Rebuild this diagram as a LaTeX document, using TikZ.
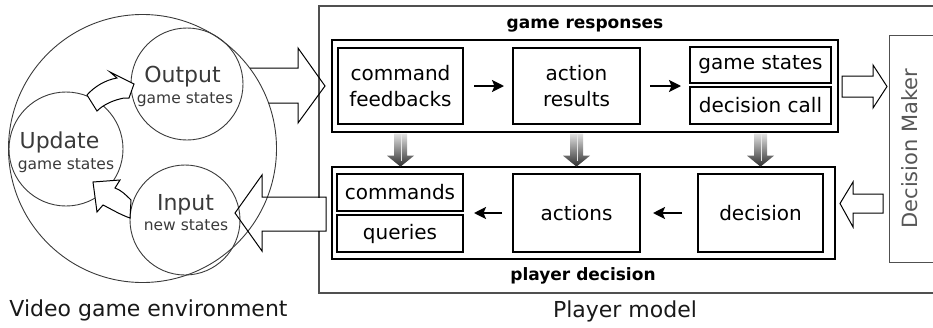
\documentclass[tikz,border=0pt]{standalone}
\usepackage{fontspec}
\setmainfont{DejaVu Sans}
\usetikzlibrary{arrows.meta,calc}
\definecolor{ink}{HTML}{3A3A3A}
\definecolor{framegray}{HTML}{505050}
\newcommand\sizeof[2]{\fontsize{#1}{#2}\selectfont}
\begin{document}
\begin{tikzpicture}[x=1pt,y=-1pt,
  ring/.style={draw=ink, line width=0.9pt, circle, inner sep=0pt},
  bigtxt/.style={text=ink, font=\sizeof{22}{26}, inner sep=0pt, anchor=base},
  smalltxt/.style={text=ink, font=\sizeof{15.5}{18}, inner sep=0pt, anchor=base},
  blockarrow/.style={draw=black, line width=1pt, line join=miter},
  container/.style={draw=black, line width=1.3pt, inner sep=0pt},
  item/.style={draw=black, line width=2pt, inner sep=0pt, align=center,
               font=\sizeof{20}{26}},
  grouplabel/.style={font=\bfseries\sizeof{17}{20}, inner sep=0pt, anchor=base},
  caption/.style={font=\sizeof{22}{26}, text=black!90, inner sep=0pt, anchor=base},
  flow/.style={line width=2pt, -{Stealth[length=12pt,width=12pt,inset=2.5pt]}},
]
\useasboundingbox (0,0) rectangle (933,327);
\clip (0,0) rectangle (933,327);

% ---------------- video game environment ----------------
\node[ring, minimum size=268pt] (env) at (142.5,148.5) {};
\node[ring, minimum size=112pt] (outc) at (187,84) {};
\node[ring, minimum size=114pt] (updc) at (66,149) {};
\node[ring, minimum size=110pt] (inc) at (185,220) {};

% curved arrow: update -> output
\filldraw[blockarrow, fill=white]
  (87,95) .. controls (94,87) and (105,80) .. (117,78)
  -- (110,72) -- (134,84) -- (129,98) -- (124,98)
  .. controls (114,100) and (104,104) .. (97,111) -- cycle;
% curved arrow: input -> update
\filldraw[blockarrow, fill=white]
  (131,200) .. controls (126,195) and (121,190) .. (115,188)
  -- (120,180) -- (93,182) -- (97,212) -- (103,205)
  .. controls (111,209) and (121,215) .. (130,218) -- cycle;

\node[bigtxt]   (outa) at (182.5,82)  {Output};
\node[smalltxt] (outb) at (185,103)   {game states};
\node[bigtxt]   (upda) at (59.5,148)  {Update};
\node[smalltxt] (updb) at (66,169)    {game states};
\node[bigtxt]   (ina)  at (185.5,210) {Input};
\node[smalltxt] (inb)  at (186,230)   {new states};

% ---------------- player model ----------------
\node[draw=framegray, line width=1.5pt, inner sep=0pt,
      minimum width=640pt, minimum height=287pt] (player) at (639,149.5) {};
\node[draw=framegray, line width=1pt, inner sep=0pt,
      minimum width=70pt, minimum height=227pt] (dm) at (924,148.5) {};
\node[rotate=90, text=ink!85, font=\sizeof{21}{24}, inner sep=0pt] (dmlabel) at (910,148.5) {Decision Maker};

\node[container, minimum width=506pt, minimum height=92pt] (grbox) at (585,86) {};
\node[container, minimum width=503pt, minimum height=92pt] (pdbox) at (583.5,213) {};
\node[grouplabel] (grlabel) at (585,28)  {game responses};
\node[grouplabel] (pdlabel) at (583,280) {player decision};

\node[item, minimum width=125pt, minimum height=76pt] (cmd) at (400.5,86) {command\\feedbacks};
\node[item, minimum width=127pt, minimum height=76pt] (act) at (576.5,86) {action\\results};
\node[item, minimum width=141pt, minimum height=36pt] (gs)  at (760.5,65) {game states};
\node[item, minimum width=141pt, minimum height=37pt] (dc)  at (760.5,105.5) {decision call};

\node[item, minimum width=126pt, minimum height=37pt] (cmds) at (400,192.5) {commands};
\node[item, minimum width=126pt, minimum height=37pt] (qry)  at (400,233.5) {queries};
\node[item, minimum width=127pt, minimum height=78pt] (acts) at (576.5,213) {actions};
\node[item, minimum width=125pt, minimum height=78pt] (dec)  at (760.5,213) {decision};

% flows inside the groups
\draw[flow, shorten <=10pt, shorten >=8pt] (cmd.east) -- (act.west);
\draw[flow, shorten <=9pt, shorten >=8pt] (act.east) -- (act.east -| gs.west);
\draw[flow, shorten <=10pt, shorten >=10pt] (acts.west) -- (acts.west -| cmds.east);
\draw[flow, shorten <=15pt, shorten >=12pt] (dec.west) -- (acts.east);

% shaded arrows from responses to decisions
\foreach \src in {cmd,act,gs}{
  \coordinate (t) at (\src.south |- grbox.south);
  \shade[top color=black!12, bottom color=black!82]
    ($(t)+(-6.5,1)$) -- ($(t)+(6.5,1)$) -- ($(t)+(6.5,23)$) -- ($(t)+(13.5,23)$)
    -- ($(t)+(0,34)$) -- ($(t)+(-13.5,23)$) -- ($(t)+(-6.5,23)$) -- cycle;
  \draw[white!80!gray, line width=1.2pt] ($(t)+(1,1)$) -- ($(t)+(1,28)$);
}

% block arrows between environment, player and decision maker
\draw[blockarrow] (250,68) -- (298,68) -- (298,48) -- (325,86) -- (298,123) -- (298,103) -- (268.5,103);
\fill[white] (290,197.5) rectangle (326,230.5);
\draw[blockarrow] (326,197) -- (262,197) -- (262,175) -- (235,213) -- (262,251) -- (262,231) -- (326,231) -- cycle;
\draw[blockarrow] (842,76) -- (873,76) -- (873,65) -- (887,86.5) -- (873,108) -- (873,97) -- (842,97) -- cycle;
\draw[blockarrow] (883,194) -- (853,194) -- (853,182) -- (840,203.5) -- (853,227) -- (853,213) -- (883,213) -- cycle;

% captions
\node[caption] (envcap) at (148.5,316) {Video game environment};
\node[caption] (plcap)  at (625,317)   {Player model};
\end{tikzpicture}
\end{document}
